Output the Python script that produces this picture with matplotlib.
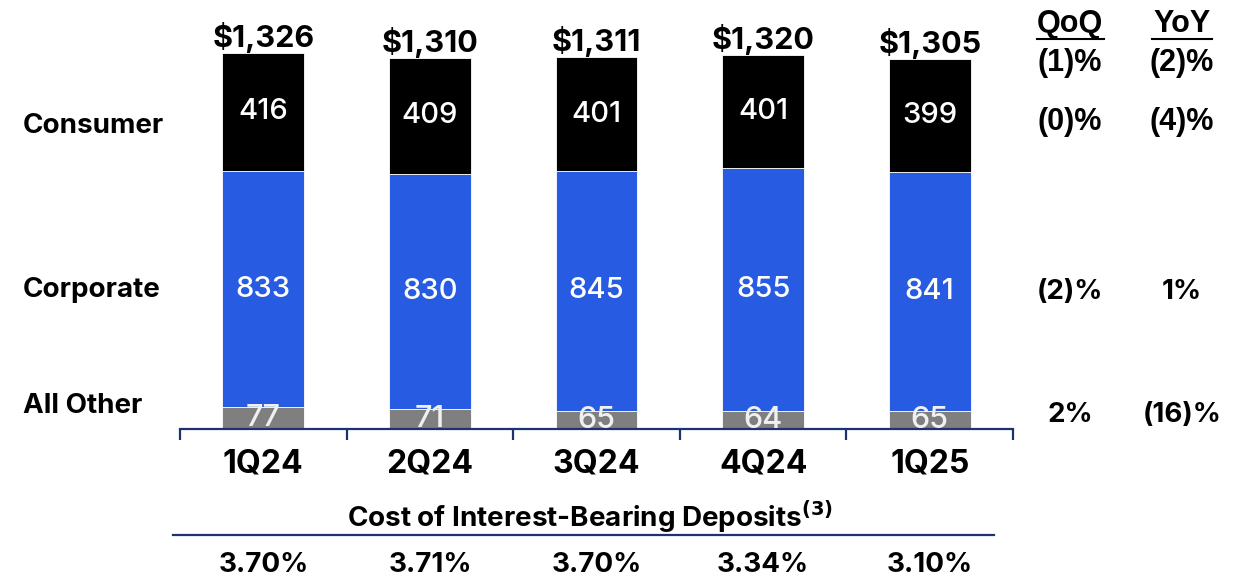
import matplotlib
matplotlib.use("Agg")
import matplotlib.pyplot as plt
from matplotlib.lines import Line2D
import numpy as np

quarters = ["1Q24", "2Q24", "3Q24", "4Q24", "1Q25"]
all_other = [77, 71, 65, 64, 65]
corporate = [833, 830, 845, 855, 841]
consumer = [416, 409, 401, 401, 399]
totals = ["$1,326", "$1,310", "$1,311", "$1,320", "$1,305"]
cost_deposits = ["3.70%", "3.71%", "3.70%", "3.34%", "3.10%"]
row_labels = ["Consumer", "Corporate", "All Other"]
qoq = ["(1)%", "(0)%", "(2)%", "2%"]
yoy = ["(2)%", "(4)%", "1%", "(16)%"]

W, H = 1242, 581
fig = plt.figure(figsize=(W / 100, H / 100), dpi=100)
fig.patch.set_facecolor("white")

def fx(x):
    return x / W

def fy(y):
    return 1 - y / H

FONT = ["Inter", "DejaVu Sans"]
ARIAL = ["Liberation Sans", "DejaVu Sans"]
NAVY = "#1C3370"
BLUE = "#275CE2"
GREY = "#7F7F7F"

ax_left, ax_right = 180, 1013
ax_base, ax_top = 429, 40
ax = fig.add_axes([fx(ax_left), fy(ax_base), fx(ax_right - ax_left), (ax_base - ax_top) / H])
scale = (429 - 53) / 1326.0
ax.set_ylim(0, (ax_base - ax_top) / scale)
ax.set_xlim(-0.5, 4.5)

x = np.arange(len(quarters))
bw = 0.49
ao = np.array(all_other)
co = np.array(corporate)
cs = np.array(consumer)
ax.bar(x, ao, bw, color=GREY, edgecolor="white", linewidth=0.6)
ax.bar(x, co, bw, bottom=ao, color=BLUE, edgecolor="white", linewidth=0.6)
ax.bar(x, cs, bw, bottom=ao + co, color="black", edgecolor="white", linewidth=0.6)

for i in range(len(x)):
    ax.text(x[i], ao[i] / 2, str(ao[i]), ha="center", va="center", color="#F0F0F0",
            fontsize=22, family=FONT, fontweight="medium", clip_on=True)
    ax.text(x[i], ao[i] + co[i] / 2, str(co[i]), ha="center", va="center", color="white",
            fontsize=21, family=FONT, fontweight="medium")
    ax.text(x[i], ao[i] + co[i] + cs[i] / 2, str(cs[i]), ha="center", va="center", color="white",
            fontsize=21, family=FONT, fontweight="medium")
    top = ao[i] + co[i] + cs[i]
    ax.annotate(totals[i], (x[i], top), xytext=(0, 0), textcoords="offset points",
                ha="center", va="bottom", fontsize=22, fontweight="bold", family=FONT,
                color="black")

for s in ["top", "left", "right"]:
    ax.spines[s].set_visible(False)
ax.spines["bottom"].set_color(NAVY)
ax.spines["bottom"].set_linewidth(1.6)
ax.set_yticks([])
ax.set_xticks(np.arange(-0.5, 5.0, 1.0))
ax.set_xticklabels([])
ax.tick_params(axis="x", direction="out", length=8, width=1.6, color=NAVY)
ax.set_facecolor("none")

for i, q in enumerate(quarters):
    ax.annotate(q, (x[i], 0), xytext=(0, -25), textcoords="offset points",
                ha="center", va="center", fontsize=23, fontweight="bold", family=FONT)

# Row labels
row_y = [126, 290, 406]
for lab, yy in zip(row_labels, row_y):
    fig.text(fx(23), fy(yy), lab, ha="left", va="center", fontsize=20, fontweight="bold",
             family=FONT)

# QoQ / YoY columns
qx, yx = 1070, 1182
fig.text(fx(qx), fy(24), "QoQ", ha="center", va="center", fontsize=22, fontweight="bold", family=ARIAL)
fig.text(fx(yx), fy(24), "YoY", ha="center", va="center", fontsize=22, fontweight="bold", family=ARIAL)
fig.add_artist(Line2D([fx(1037), fx(1104)], [fy(39), fy(39)], color="black", lw=1.5))
fig.add_artist(Line2D([fx(1152), fx(1212)], [fy(39), fy(39)], color="black", lw=1.5))
val_y = [63, 122, 292, 415]
for k, yy in enumerate(val_y):
    fam = ARIAL if k < 2 else FONT
    fs = 22 if k < 2 else 20
    fig.text(fx(qx), fy(yy), qoq[k], ha="center", va="center", fontsize=fs, fontweight="bold", family=fam)
    fig.text(fx(yx), fy(yy), yoy[k], ha="center", va="center", fontsize=fs, fontweight="bold", family=fam)

# Cost of deposits
fig.text(fx(590), fy(517), r"Cost of Interest-Bearing Deposits$^{\mathbf{(3)}}$", ha="center",
         va="center", fontsize=20, fontweight="bold", family=FONT)
fig.add_artist(Line2D([fx(173), fx(994)], [fy(535), fy(535)], color=NAVY, lw=1.6))
for i, v in enumerate(cost_deposits):
    xp = ax_left + (i + 0.5) * (ax_right - ax_left) / 5
    fig.text(fx(xp), fy(565), v, ha="center", va="center", fontsize=20, fontweight="bold", family=FONT)

fig.savefig("out.png", dpi=100, facecolor="white")
